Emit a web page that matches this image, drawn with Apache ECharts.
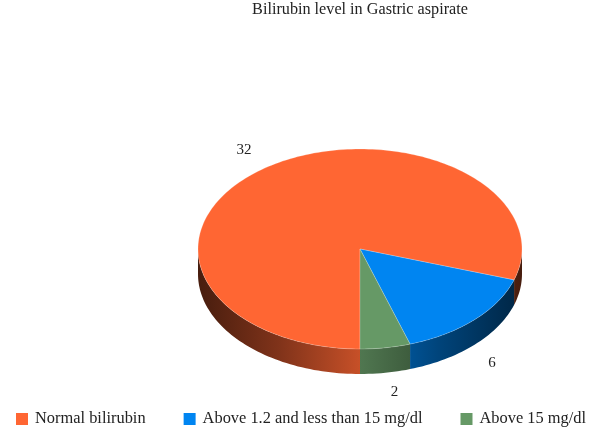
<!DOCTYPE html>
<html>
<head>
<meta charset="utf-8">
<style>html,body{margin:0;padding:0;background:#fff}#c{width:600px;height:436px}</style>
<script src="https://cdn.jsdelivr.net/npm/echarts@6/dist/echarts.min.js"></script>
</head>
<body>
<div id="c"></div>
<script>
const titleText = 'Bilirubin level in Gastric aspirate';
const categories = ['Normal bilirubin', 'Above 1.2 and less than 15 mg/dl', 'Above 15 mg/dl'];
const values = [32, 6, 2];
const colors = ['#ff6633', '#0085f1', '#669966'];

const pie = {cx: 360, cy: 249, rx: 162, ry: 100, depth: 25, start: 180};
const labelNudge = [[2, 1], [-10, 1], [3, -4]];
const total = values.reduce((a, b) => a + b, 0);

function shade(hex, f) {
  const n = parseInt(hex.slice(1), 16);
  return 'rgb(' + [(n >> 16) & 255, (n >> 8) & 255, n & 255].map(c => Math.round(c * f)).join(',') + ')';
}
function pt(deg, dy) {
  const a = deg * Math.PI / 180;
  return [pie.cx + pie.rx * Math.sin(a), pie.cy - pie.ry * Math.cos(a) + (dy || 0)];
}
function arc(a0, a1, dy) {
  const pts = [], n = Math.max(2, Math.ceil(Math.abs(a1 - a0) / 1.5));
  for (let i = 0; i <= n; i++) pts.push(pt(a0 + (a1 - a0) * i / n, dy));
  return pts;
}
function makeRender(idx) {
  return function (params, api) {
    const sweep = api.value(0) / total * 360;
    const before = values.slice(0, idx).reduce((a, b) => a + b, 0);
    const a0 = pie.start + before / total * 360, a1 = a0 + sweep;
    const children = [];
    const wallFill = new echarts.graphic.LinearGradient(
      pie.cx - pie.rx, 0, pie.cx + pie.rx, 0,
      [[0, .28], [.25, .5], [.5, .78], [.75, .5], [1, .28]].map(s => ({offset: s[0], color: shade(colors[idx], s[1])})),
      true);
    [[90, 270], [450, 630]].forEach(r => {
      const s = Math.max(a0, r[0]), e = Math.min(a1, r[1]);
      if (e > s) {
        children.push({
          type: 'polygon',
          shape: {points: arc(s, e, 0).concat(arc(e, s, pie.depth))},
          style: {fill: wallFill}
        });
      }
    });
    children.push({
      type: 'polygon',
      shape: {points: [[pie.cx, pie.cy]].concat(arc(a0, a1, 0))},
      style: {fill: colors[idx], stroke: 'rgba(255,255,255,0.35)', lineWidth: 0.6}
    });
    const mid = (a0 + a1) / 2, m = mid * Math.PI / 180;
    const lower = Math.cos(m) < 0 ? pie.depth : 0;
    children.push({
      type: 'text',
      style: {
        x: pie.cx + 1.24 * pie.rx * Math.sin(m) + labelNudge[idx][0],
        y: pie.cy - 1.24 * pie.ry * Math.cos(m) + lower + labelNudge[idx][1],
        text: String(api.value(0)),
        fill: '#222', align: 'center', verticalAlign: 'middle',
        font: '15px "Liberation Serif"'
      }
    });
    return {type: 'group', children: children};
  };
}

const chart = echarts.init(document.getElementById('c'), null, {renderer: 'canvas'});
chart.setOption({
  animation: false,
  title: {
    text: titleText, left: 355, top: -3, textAlign: 'center',
    textStyle: {fontFamily: 'Liberation Serif', fontSize: 16.2, fontWeight: 'normal', color: '#222'}
  },
  legend: {
    data: categories, left: 11, top: 406, icon: 'rect',
    itemWidth: 12, itemHeight: 12, itemGap: 38,
    textStyle: {fontFamily: 'Liberation Serif', fontSize: 16.4, color: '#222', padding: [0, 0, 0, 2]}
  },
  series: categories.map((name, i) => ({
    type: 'custom', name: name, coordinateSystem: 'none',
    renderItem: makeRender(i),
    itemStyle: {color: colors[i]},
    data: [[values[i]]]
  }))
});
</script>
</body>
</html>
